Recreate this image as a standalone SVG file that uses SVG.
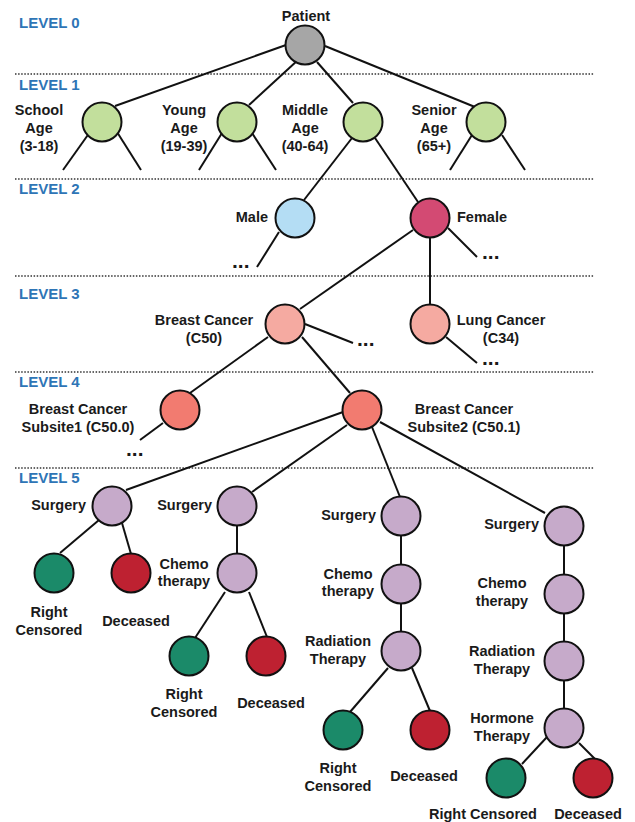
<svg xmlns="http://www.w3.org/2000/svg" width="635" height="822" viewBox="0 0 635 822">
<style>
text{font-family:"Liberation Sans",Arial,sans-serif;font-weight:bold;fill:#1a1a1a;font-size:14.5px}
.lvl{fill:#2e75b6;font-size:15px}
.m{text-anchor:middle}
.e{text-anchor:end}
.dots{font-size:21px}
.sep{stroke:#333;stroke-width:1.5;stroke-dasharray:1.5 1.6;fill:none}
.c line{stroke:#111;stroke-width:2}
circle{stroke:#111;stroke-width:2}
.g0{fill:#a6a6a6}.g1{fill:#c2df9c}.male{fill:#b4ddf4}.fem{fill:#d34a73}
.l3{fill:#f5aaa1}.l4{fill:#f27b70}.tr{fill:#c6aaca}.rc{fill:#1b8a69}.dc{fill:#be2131}
</style>
<g id="levels">
<text class="lvl" x="19" y="28">LEVEL 0</text>
<text class="lvl" x="19" y="90">LEVEL 1</text>
<text class="lvl" x="19" y="194">LEVEL 2</text>
<text class="lvl" x="19" y="299">LEVEL 3</text>
<text class="lvl" x="19" y="387">LEVEL 4</text>
<text class="lvl" x="19" y="483">LEVEL 5</text>
<line class="sep" x1="15" y1="74" x2="594" y2="74"/>
<line class="sep" x1="15" y1="179" x2="594" y2="179"/>
<line class="sep" x1="15" y1="276" x2="594" y2="276"/>
<line class="sep" x1="15" y1="372" x2="594" y2="372"/>
<line class="sep" x1="15" y1="468" x2="594" y2="468"/>
</g>
<g id="connectors" class="c">
<line x1="286" y1="45" x2="115" y2="106"/>
<line x1="298" y1="60" x2="249" y2="105"/>
<line x1="317" y1="62" x2="353" y2="103"/>
<line x1="325" y1="46" x2="475" y2="107"/>
<line x1="90" y1="132" x2="63" y2="170"/>
<line x1="117" y1="132" x2="141" y2="170"/>
<line x1="222" y1="133" x2="199" y2="170"/>
<line x1="252" y1="133" x2="276" y2="170"/>
<line x1="472" y1="135" x2="450" y2="170"/>
<line x1="502" y1="135" x2="525" y2="170"/>
<line x1="352" y1="138" x2="304" y2="200"/>
<line x1="375" y1="138" x2="418" y2="202"/>
<line x1="279" y1="232" x2="257" y2="267"/>
<line x1="413" y1="230" x2="300" y2="309"/>
<line x1="430" y1="238" x2="430" y2="305"/>
<line x1="448" y1="228" x2="477" y2="257"/>
<line x1="305" y1="324" x2="353" y2="343"/>
<line x1="446" y1="337" x2="477" y2="363"/>
<line x1="268" y1="337" x2="190" y2="393"/>
<line x1="302" y1="337" x2="350" y2="393"/>
<line x1="163" y1="423" x2="140" y2="440"/>
<line x1="343" y1="412" x2="126" y2="490"/>
<line x1="347" y1="425" x2="252" y2="492"/>
<line x1="372" y1="427" x2="400" y2="497"/>
<line x1="380" y1="422" x2="545" y2="513"/>
<line x1="99" y1="520" x2="60" y2="553"/>
<line x1="122" y1="523" x2="131" y2="554"/>
<line x1="237" y1="526" x2="237" y2="554"/>
<line x1="225" y1="592" x2="195" y2="638"/>
<line x1="249" y1="592" x2="267" y2="637"/>
<line x1="401" y1="536" x2="401" y2="564"/>
<line x1="401" y1="603" x2="401" y2="632"/>
<line x1="388" y1="668" x2="350" y2="712"/>
<line x1="412" y1="668" x2="430" y2="711"/>
<line x1="564" y1="545" x2="564" y2="574"/>
<line x1="564" y1="613" x2="564" y2="642"/>
<line x1="564" y1="681" x2="564" y2="709"/>
<line x1="547" y1="737" x2="522" y2="764"/>
<line x1="579" y1="743" x2="596" y2="760"/>
</g>
<g id="patient"><circle class="g0" cx="305" cy="45" r="19.5"/><text class="m" x="306" y="21">Patient</text></g>
<g id="school"><circle class="g1" cx="102" cy="122" r="19.5"/><text class="m" x="39" y="115">School</text><text class="m" x="39" y="133">Age</text><text class="m" x="39" y="151">(3-18)</text></g>
<g id="young"><circle class="g1" cx="237" cy="122" r="19.5"/><text class="m" x="184" y="115">Young</text><text class="m" x="184" y="133">Age</text><text class="m" x="184" y="151">(19-39)</text></g>
<g id="middle"><circle class="g1" cx="363" cy="122" r="19.5"/><text class="m" x="305" y="115">Middle</text><text class="m" x="305" y="133">Age</text><text class="m" x="305" y="151">(40-64)</text></g>
<g id="senior"><circle class="g1" cx="486" cy="122" r="19.5"/><text class="m" x="434" y="115">Senior</text><text class="m" x="434" y="133">Age</text><text class="m" x="434" y="151">(65+)</text></g>
<g id="male"><circle class="male" cx="295" cy="218" r="19.5"/><text class="e" x="268" y="222">Male</text><text class="dots" x="232" y="268">...</text></g>
<g id="female"><circle class="fem" cx="430" cy="218" r="19.5"/><text x="457" y="222">Female</text><text class="dots" x="482" y="259">...</text></g>
<g id="breast"><circle class="l3" cx="285" cy="324" r="19.5"/><text class="m" x="204" y="325">Breast Cancer</text><text class="m" x="204" y="343">(C50)</text><text class="dots" x="357" y="346">...</text></g>
<g id="lung"><circle class="l3" cx="430" cy="324" r="19.5"/><text class="m" x="501" y="325">Lung Cancer</text><text class="m" x="501" y="343">(C34)</text><text class="dots" x="482" y="365">...</text></g>
<g id="subsite1"><circle class="l4" cx="180" cy="410" r="19.5"/><text class="m" x="78" y="414">Breast Cancer</text><text class="m" x="78" y="432">Subsite1 (C50.0)</text><text class="dots" x="126" y="456">...</text></g>
<g id="subsite2"><circle class="l4" cx="362" cy="410" r="19.5"/><text class="m" x="464" y="414">Breast Cancer</text><text class="m" x="464" y="432">Subsite2 (C50.1)</text></g>
<g id="a-surgery"><circle class="tr" cx="112" cy="506" r="19.5"/><text class="e" x="86" y="510">Surgery</text></g>
<g id="a-rc"><circle class="rc" cx="54" cy="573" r="19.5"/><text class="m" x="49" y="617">Right</text><text class="m" x="49" y="635">Censored</text></g>
<g id="a-dc"><circle class="dc" cx="131" cy="573" r="19.5"/><text class="m" x="136" y="626">Deceased</text></g>
<g id="b-surgery"><circle class="tr" cx="237" cy="506" r="19.5"/><text class="e" x="212" y="510">Surgery</text></g>
<g id="b-chemo"><circle class="tr" cx="237" cy="573" r="19.5"/><text class="m" x="184" y="569">Chemo</text><text class="m" x="184" y="586">therapy</text></g>
<g id="b-rc"><circle class="rc" cx="189" cy="656" r="19.5"/><text class="m" x="184" y="699">Right</text><text class="m" x="184" y="717">Censored</text></g>
<g id="b-dc"><circle class="dc" cx="266" cy="656" r="19.5"/><text class="m" x="271" y="708">Deceased</text></g>
<g id="c-surgery"><circle class="tr" cx="401" cy="516" r="19.5"/><text class="e" x="376" y="520">Surgery</text></g>
<g id="c-chemo"><circle class="tr" cx="401" cy="584" r="19.5"/><text class="m" x="348" y="579">Chemo</text><text class="m" x="348" y="596">therapy</text></g>
<g id="c-rad"><circle class="tr" cx="401" cy="651" r="19.5"/><text class="m" x="338" y="646">Radiation</text><text class="m" x="338" y="664">Therapy</text></g>
<g id="c-rc"><circle class="rc" cx="343" cy="730" r="19.5"/><text class="m" x="338" y="773">Right</text><text class="m" x="338" y="791">Censored</text></g>
<g id="c-dc"><circle class="dc" cx="430" cy="730" r="19.5"/><text class="m" x="424" y="781">Deceased</text></g>
<g id="d-surgery"><circle class="tr" cx="564" cy="526" r="19.5"/><text class="e" x="539" y="529">Surgery</text></g>
<g id="d-chemo"><circle class="tr" cx="564" cy="594" r="19.5"/><text class="m" x="502" y="588">Chemo</text><text class="m" x="502" y="606">therapy</text></g>
<g id="d-rad"><circle class="tr" cx="564" cy="661" r="19.5"/><text class="m" x="502" y="656">Radiation</text><text class="m" x="502" y="674">Therapy</text></g>
<g id="d-horm"><circle class="tr" cx="564" cy="728" r="19.5"/><text class="m" x="502" y="723">Hormone</text><text class="m" x="502" y="741">Therapy</text></g>
<g id="d-rc"><circle class="rc" cx="506" cy="778" r="19.5"/><text class="m" x="483" y="819">Right Censored</text></g>
<g id="d-dc"><circle class="dc" cx="593" cy="778" r="19.5"/><text class="m" x="588" y="819">Deceased</text></g>
</svg>
